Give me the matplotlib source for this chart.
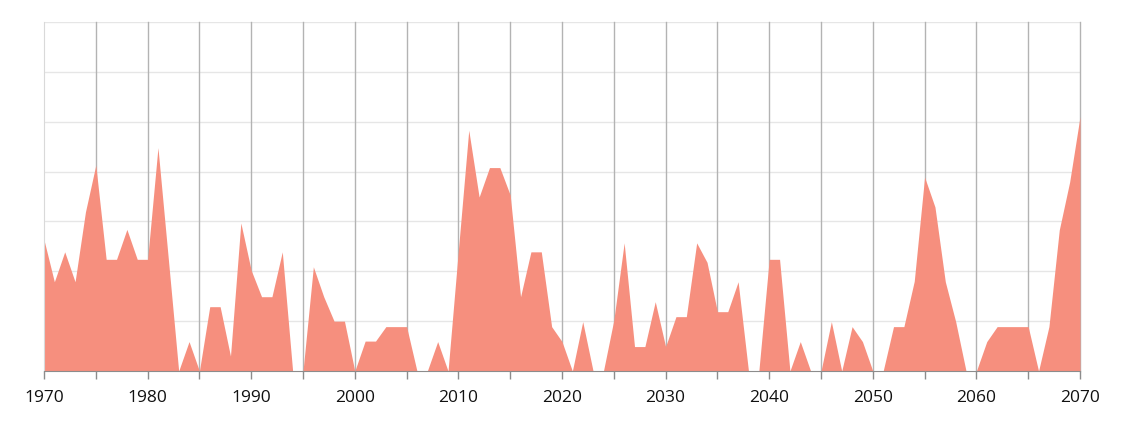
import numpy as np
from matplotlib import pyplot as plt

years = list(range(1970, 2071))
values = [
    2.63, 1.79, 2.39, 1.79, 3.19, 4.13, 2.24, 2.24, 2.84, 2.24,   # 1970-1979
    2.24, 4.48, 2.25, 0.0, 0.59, 0.0, 1.29, 1.29, 0.30, 2.97,     # 1980-1989
    2.02, 1.49, 1.49, 2.39, 0.0, 0.0, 2.09, 1.49, 1.0, 1.0,       # 1990-1999
    0.0, 0.60, 0.60, 0.89, 0.89, 0.89, 0.0, 0.0, 0.59, 0.0,       # 2000-2009
    2.43, 4.83, 3.49, 4.08, 4.08, 3.53, 1.49, 2.39, 2.39, 0.89,   # 2010-2019
    0.59, 0.0, 0.99, 0.0, 0.0, 1.02, 2.57, 0.49, 0.49, 1.39,      # 2020-2029
    0.49, 1.09, 1.09, 2.57, 2.18, 1.19, 1.19, 1.79, 0.0, 0.0,     # 2030-2039
    2.24, 2.24, 0.0, 0.59, 0.0, 0.0, 0.99, 0.0, 0.89, 0.59,       # 2040-2049
    0.0, 0.0, 0.89, 0.89, 1.80, 3.89, 3.29, 1.79, 0.99, 0.0,      # 2050-2059
    0.0, 0.59, 0.89, 0.89, 0.89, 0.89, 0.0, 0.89, 2.83, 3.79,     # 2060-2069
    5.10,                                                         # 2070
]

plt.rcParams['font.family'] = ['Open Sans', 'DejaVu Sans']

fig = plt.figure(figsize=(11.24, 4.23), dpi=100)
ax = fig.add_axes([44 / 1124, 52 / 423, 1036 / 1124, 349 / 423])

ax.fill_between(years, values, 0, color='#f68f7e', linewidth=0, zorder=2)

ax.set_xlim(1970, 2070)
ax.set_ylim(0, 7)

# grid
for yv in range(1, 8):
    ax.axhline(yv, color='#e6e6e6', linewidth=1, zorder=0)
for xv in range(1975, 2071, 5):
    ax.axvline(xv, color='#b3b3b3', linewidth=1, zorder=1, clip_on=False)

ax.set_xticks(range(1970, 2071, 5))
ax.set_xticklabels([str(x) if x % 10 == 0 else '' for x in range(1970, 2071, 5)])
ax.set_yticks([])
ax.tick_params(axis='x', length=6, width=1, color='#8c8c8c', labelsize=12.5, pad=8,
               labelcolor='#111111')

for side in ['top', 'right']:
    ax.spines[side].set_visible(False)
ax.spines['left'].set_color('#d9d9d9')
ax.spines['bottom'].set_color('#8c8c8c')
ax.spines['bottom'].set_zorder(3)

fig.savefig('out.png', dpi=100)
